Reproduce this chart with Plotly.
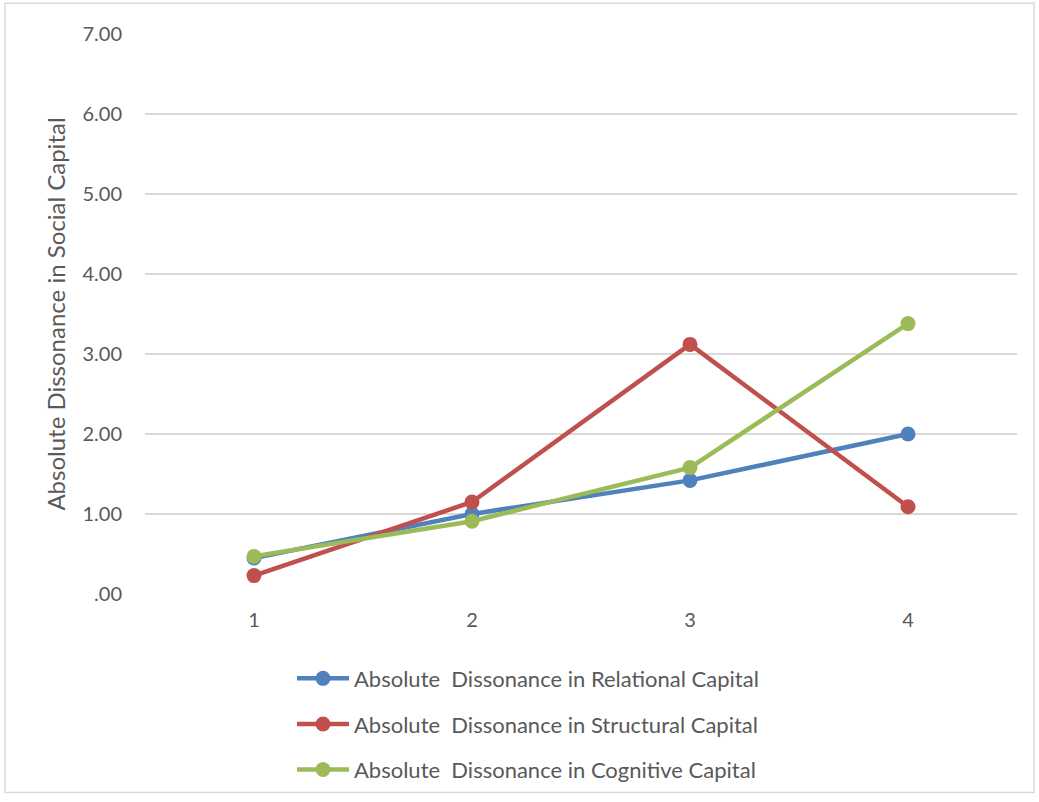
import plotly.graph_objects as go

# Periods on the category axis
periods = ["1", "2", "3", "4"]

# Absolute dissonance per capital dimension
relational = [0.45, 1.00, 1.42, 2.00]
structural = [0.23, 1.15, 3.12, 1.09]
cognitive = [0.47, 0.91, 1.58, 3.38]

series_names = [
    "Absolute  Dissonance in Relational Capital",
    "Absolute  Dissonance in Structural Capital",
    "Absolute  Dissonance in Cognitive Capital",
]

y_ticks = [0, 1, 2, 3, 4, 5, 6, 7]
y_tick_text = [".00", "1.00", "2.00", "3.00", "4.00", "5.00", "6.00", "7.00"]

colors = ["#4F81BD", "#C0504D", "#9BBB59"]
font_family = "Lato, 'Open Sans', sans-serif"

fig = go.Figure()
for i, (name, values, color) in enumerate(zip(series_names, [relational, structural, cognitive], colors)):
    fig.add_trace(go.Scatter(
        x=periods,
        y=values,
        name=name,
        legendgroup=f"g{i}",
        mode="lines+markers",
        line=dict(color=color, width=4.5),
        marker=dict(color=color, size=15),
    ))

fig.update_layout(
    width=1039,
    height=802,
    paper_bgcolor="white",
    plot_bgcolor="white",
    margin=dict(l=145, r=22, t=34, b=204),
    font=dict(family=font_family, color="#595959", size=20),
    showlegend=True,
    legend=dict(
        orientation="v",
        x=(292 - 145) / 872,
        xanchor="left",
        y=-64 / 564,
        yanchor="top",
        font=dict(size=22, color="#595959"),
        tracegroupgap=14,
        itemwidth=52,
        bgcolor="rgba(0,0,0,0)",
    ),
    xaxis=dict(
        type="category",
        range=[-0.5, 3.5],
        showgrid=False,
        zeroline=False,
        showline=False,
        ticks="",
        tickfont=dict(size=20, color="#595959"),
        ticklabelstandoff=12,
    ),
    yaxis=dict(
        range=[0, 7],
        tickvals=y_ticks,
        ticktext=y_tick_text,
        showgrid=True,
        gridcolor="#D9D9D9",
        gridwidth=1.5,
        zeroline=False,
        showline=False,
        ticks="",
        tickfont=dict(size=20, color="#595959"),
        ticklabelstandoff=22,
        title=dict(
            text="Absolute Dissonance in Social Capital",
            font=dict(size=24, color="#595959"),
            standoff=10,
        ),
    ),
    shapes=[
        dict(
            type="rect", xref="paper", yref="paper",
            x0=-140 / 872, x1=1 + 17 / 872, y0=-200 / 564, y1=1 + 31 / 564,
            line=dict(color="#D9D9D9", width=1.5),
            fillcolor="rgba(0,0,0,0)",
            layer="below",
        )
    ],
)

fig.write_html("out.html")
